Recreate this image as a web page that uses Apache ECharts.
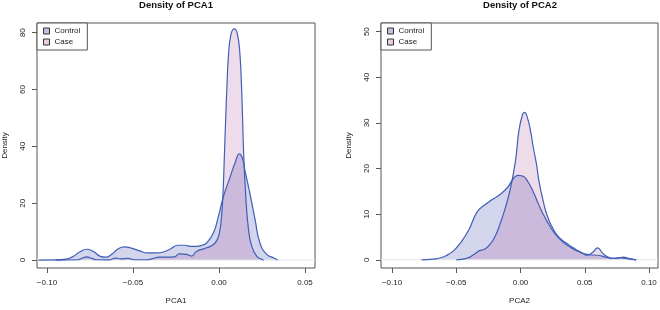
<!DOCTYPE html>
<html>
<head>
<meta charset="utf-8">
<script src="https://cdn.jsdelivr.net/npm/echarts@6/dist/echarts.min.js"></script>
<style>
  html, body { margin: 0; padding: 0; background: #fff; }
  #chart { width: 660px; height: 310px; }
</style>
</head>
<body>
<div id="chart"></div>
<script>
// 密度曲线数据
// PCA1 - Control
const pca1ControlX = [-0.105, -0.095, -0.089, -0.085, -0.081, -0.077, -0.073, -0.069, -0.066, -0.062, -0.059, -0.055, -0.051, -0.046, -0.042, -0.036, -0.032, -0.028, -0.024, -0.020, -0.016, -0.013, -0.0095, -0.0072, -0.0033, -0.0004, 0.0025, 0.0064, 0.0095, 0.0118, 0.0135, 0.0151, 0.018, 0.021, 0.0238, 0.0277, 0.0316, 0.034];
const pca1ControlY = [0, 0.05, 0.3, 1.2, 2.8, 3.8, 3.0, 1.3, 1.0, 2.2, 3.8, 4.6, 4.2, 3.2, 2.5, 2.5, 2.9, 4.0, 5.2, 5.2, 4.8, 4.8, 5.3, 6.0, 9.5, 15.2, 22.2, 29.1, 34.5, 37.4, 36.0, 31.4, 23.3, 14.1, 6.0, 2.0, 0.8, 0];
// PCA1 - Case
const pca1CaseX = [-0.095, -0.082, -0.079, -0.077, -0.074, -0.071, -0.064, -0.060, -0.057, -0.053, -0.049, -0.042, -0.038, -0.035, -0.030, -0.026, -0.023, -0.019, -0.016, -0.013, -0.0072, -0.0023, 0.0002, 0.0016, 0.0025, 0.0032, 0.0039, 0.0046, 0.0055, 0.0070, 0.0089, 0.0107, 0.0122, 0.0131, 0.0137, 0.0143, 0.0155, 0.017, 0.019, 0.0219, 0.0247, 0.026];
const pca1CaseY = [0, 0.1, 0.8, 1.1, 0.6, 0.1, 0.05, 0.7, 0.4, 0.6, 0.1, 0.1, 0.6, 1.0, 1.0, 1.1, 2.2, 2.0, 1.4, 3.1, 4.3, 6.0, 9.5, 16.4, 26, 38, 50, 61, 72, 79.5, 81.3, 79.5, 72, 61, 50, 38, 23, 11.5, 4.9, 1.4, 0.3, 0];

// PCA2 - Control
const pca2ControlX = [-0.077, -0.070, -0.064, -0.058, -0.052, -0.046, -0.040, -0.034, -0.028, -0.022, -0.016, -0.010, -0.006, -0.002, 0.002, 0.006, 0.010, 0.014, 0.018, 0.022, 0.026, 0.030, 0.034, 0.038, 0.042, 0.046, 0.050, 0.054, 0.060, 0.066, 0.072, 0.078, 0.084, 0.090];
const pca2ControlY = [0, 0.1, 0.3, 0.9, 2.0, 4.0, 6.7, 10.4, 12.0, 13.2, 14.3, 15.9, 17.6, 18.5, 18.3, 17.0, 14.8, 12.2, 9.8, 7.8, 6.0, 4.7, 3.7, 2.9, 2.2, 1.7, 1.3, 1.1, 1.0, 0.6, 0.3, 0.4, 0.2, 0];
// PCA2 - Case
const pca2CaseX = [-0.050, -0.042, -0.036, -0.032, -0.028, -0.024, -0.020, -0.016, -0.012, -0.008, -0.004, -0.0013, 0.0015, 0.0031, 0.0050, 0.0078, 0.0100, 0.0124, 0.0145, 0.0169, 0.020, 0.024, 0.028, 0.032, 0.036, 0.040, 0.044, 0.048, 0.052, 0.056, 0.060, 0.064, 0.068, 0.072, 0.076, 0.080, 0.084, 0.090];
const pca2CaseY = [0, 0.3, 1.2, 2.0, 2.3, 3.3, 5.0, 7.8, 11.2, 15.5, 21.5, 28.2, 31.8, 32.3, 31.5, 28.2, 24.5, 21.0, 17.0, 13.8, 10.3, 7.5, 5.6, 4.4, 3.6, 2.8, 2.1, 1.5, 1.0, 1.6, 2.6, 1.4, 0.6, 0.3, 0.4, 0.6, 0.3, 0];

// 刻度
const pca1XTicks = [-0.10, -0.05, 0.00, 0.05];
const pca1YTicks = [0, 20, 40, 60, 80];
const pca2XTicks = [-0.10, -0.05, 0.00, 0.05, 0.10];
const pca2YTicks = [0, 10, 20, 30, 40, 50];

const seriesNames = ['Control', 'Case'];

const pairs = (xs, ys) => xs.map((x, i) => [x, ys[i]]);

const FONT = 'Liberation Sans, Arial, sans-serif';
const LINE = '#3f5fb6';
const CONTROL_FILL = 'rgba(45,58,165,0.30)';
const CASE_FILL = 'rgba(173,77,155,0.28)';

function xAxisOf(idx, min, max, ticks, name) {
    return {
        type: 'value', gridIndex: idx, min: min, max: max,
        name: name, nameLocation: 'middle', nameGap: 29,
        nameTextStyle: { fontFamily: FONT, fontSize: 8, color: '#222' },
        axisLine: { show: false, onZero: false },
        splitLine: { show: false },
        axisTick: { show: true, length: 5, lineStyle: { color: '#555' }, customValues: ticks },
        axisLabel: {
            fontFamily: FONT, fontSize: 8, color: '#222', margin: 11,
            customValues: ticks,
            formatter: v => (v < 0 ? '\u2212' : '') + Math.abs(v).toFixed(2)
        }
    };
}

function yAxisOf(idx, min, max, ticks) {
    return {
        type: 'value', gridIndex: idx, min: min, max: max,
        name: 'Density', nameLocation: 'middle', nameGap: 28,
        nameTextStyle: { fontFamily: FONT, fontSize: 8, color: '#222' },
        axisLine: { show: false, onZero: false },
        splitLine: { show: false },
        axisTick: { show: true, length: 5, lineStyle: { color: '#555' }, customValues: ticks },
        axisLabel: {
            fontFamily: FONT, fontSize: 8, color: '#222', margin: 10, rotate: 90,
            customValues: ticks
        }
    };
}

function densitySeries(name, idx, data, fill) {
    return {
        name: name, type: 'line', xAxisIndex: idx, yAxisIndex: idx,
        data: data, symbol: 'none', smooth: 0.5,
        lineStyle: { color: LINE, width: 1.2 },
        itemStyle: { color: LINE },
        areaStyle: { color: fill, origin: 'auto' },
        silent: true
    };
}

function zeroLine(idx, min, max) {
    return {
        type: 'line', xAxisIndex: idx, yAxisIndex: idx,
        data: [[min, 0], [max, 0]], symbol: 'none',
        lineStyle: { color: '#e6e6e6', width: 1 }, silent: true
    };
}

function legendOf(left) {
    return {
        left: left, top: 23, orient: 'vertical',
        padding: [4, 7, 4, 6], itemGap: 3,
        itemWidth: 6, itemHeight: 6, icon: 'rect',
        borderColor: '#555', borderWidth: 1, borderRadius: 0,
        backgroundColor: '#fff',
        textStyle: { fontFamily: FONT, fontSize: 8, color: '#222' },
        selectedMode: false,
        data: [
            { name: seriesNames[0], itemStyle: { color: '#c0c4e4', borderColor: '#333', borderWidth: 1 } },
            { name: seriesNames[1], itemStyle: { color: '#e8cde3', borderColor: '#333', borderWidth: 1 } }
        ]
    };
}

const chart = echarts.init(document.getElementById('chart'));

const option = {
    animation: false,
    backgroundColor: '#fff',
    title: [
        { text: 'Density of PCA1', left: 176, top: 0, padding: 0, textAlign: 'center',
          textStyle: { fontFamily: FONT, fontSize: 9.5, fontWeight: 'bold', color: '#111' } },
        { text: 'Density of PCA2', left: 520, top: 0, padding: 0, textAlign: 'center',
          textStyle: { fontFamily: FONT, fontSize: 9.5, fontWeight: 'bold', color: '#111' } }
    ],
    legend: [legendOf(37), legendOf(381)],
    grid: [
        { left: 37, top: 23, width: 278, height: 249, show: true, borderColor: '#555', borderWidth: 1 },
        { left: 381, top: 23, width: 277, height: 249, show: true, borderColor: '#555', borderWidth: 1 }
    ],
    xAxis: [
        xAxisOf(0, -0.1058, 0.0558, pca1XTicks, 'PCA1'),
        xAxisOf(1, -0.1086, 0.107, pca2XTicks, 'PCA2')
    ],
    yAxis: [
        yAxisOf(0, -2.8, 83.4, pca1YTicks),
        yAxisOf(1, -1.8, 51.9, pca2YTicks)
    ],
    series: [
        zeroLine(0, -0.1058, 0.0558),
        densitySeries(seriesNames[0], 0, pairs(pca1ControlX, pca1ControlY), CONTROL_FILL),
        densitySeries(seriesNames[1], 0, pairs(pca1CaseX, pca1CaseY), CASE_FILL),
        zeroLine(1, -0.1086, 0.107),
        densitySeries(seriesNames[0], 1, pairs(pca2ControlX, pca2ControlY), CONTROL_FILL),
        densitySeries(seriesNames[1], 1, pairs(pca2CaseX, pca2CaseY), CASE_FILL)
    ]
};

chart.setOption(option);
</script>
</body>
</html>
